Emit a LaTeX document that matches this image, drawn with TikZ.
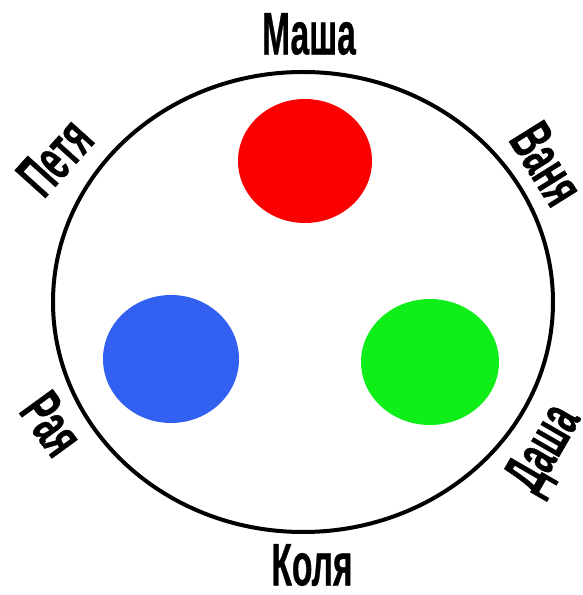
\documentclass[tikz,border=0pt]{standalone}
\usepackage{fontspec}
\setmainfont{Liberation Sans}
\newfontfamily\lblfont{Liberation Sans}[BoldFeatures={FakeBold=0.8}]
\definecolor{dotred}{RGB}{250,0,0}
\definecolor{dotblue}{RGB}{50,96,240}
\definecolor{dotgreen}{RGB}{16,238,26}
\tikzset{
  name label/.style={inner sep=0pt, font=\lblfont\fontsize{60}{60}\selectfont\bfseries}
}
\newcommand{\nm}[1]{\scalebox{0.56}[1]{#1}}
\begin{document}
\begin{tikzpicture}[x=1pt,y=1pt]
\useasboundingbox (0,0) rectangle (582,595);
\fill[white] (0,0) rectangle (582,595);
\draw[line width=4pt] (303,293) ellipse [x radius=250, y radius=230];
\fill[dotred]   (305,434) ellipse [x radius=67, y radius=62];
\fill[dotblue]  (171,236) ellipse [x radius=68, y radius=64];
\fill[dotgreen] (430,233) ellipse [x radius=69, y radius=63];
\node[name label] (masha) at (309,561) {\nm{Маша}};
\node[name label] (kolya) at (312,30) {\nm{Коля}};
\node[name label, rotate=48] (petya) at (55,438) {\nm{Петя}};
\node[name label, rotate=-58] (vanya) at (547,431) {\nm{Ваня}};
\node[name label, rotate=60] (dasha) at (546,145) {\nm{Даша}};
\node[name label, rotate=-54] (raya) at (52,171) {\nm{Рая}};
\end{tikzpicture}
\end{document}
